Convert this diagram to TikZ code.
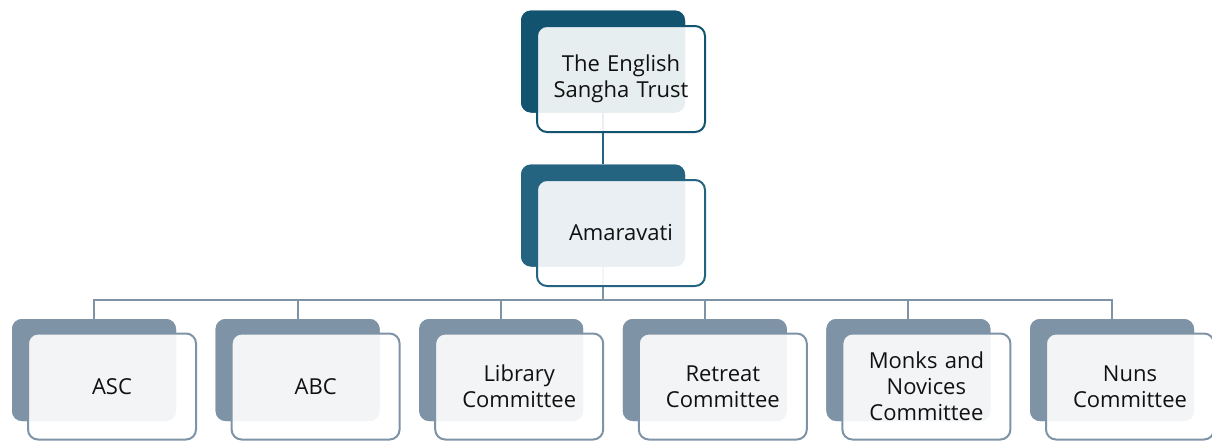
\documentclass[tikz,border=0pt]{standalone}
\usepackage{fontspec}
\setmainfont{Open Sans}
\definecolor{lvA}{HTML}{12536F}
\definecolor{lvB}{HTML}{246481}
\definecolor{lvC}{HTML}{7F93A7}
\definecolor{txt}{HTML}{111111}
\begin{document}
\begin{tikzpicture}[x=1pt,y=-1pt,
  backbox/.style={draw=none,fill=#1,rounded corners=10pt,minimum width=164pt,minimum height=102pt,inner sep=0pt},
  frontbox/.style={draw=#1,line width=2pt,fill=white,fill opacity=0.9,text opacity=1,rounded corners=10pt,minimum width=168pt,minimum height=106pt,inner sep=0pt,text width=160pt,align=center,text=txt,font=\fontsize{22}{26}\selectfont},
  conn/.style={draw=#1,line width=2pt}]
\useasboundingbox (0,0) rectangle (1212,440);
% connectors (behind)
\coordinate (bar) at (603,300);
\node[backbox=lvA] (tb) at (603,61.5) {};
\node[backbox=lvB] (ab) at (603,215.5) {};
\foreach \i in {0,...,5}{
  \node[backbox=lvC] (c\i) at ({94+203.6*\i},370) {};
}
\draw[conn=lvB] (tb.south) -- (ab.north);
\draw[conn=lvC] (ab.south) -- (bar);
\foreach \i in {0,...,5}{
  \draw[conn=lvC] (bar) -| (c\i.north);
}
% redraw back boxes over connectors
\node[backbox=lvA] at (603,61.5) {};
\node[backbox=lvB] at (603,215.5) {};
\foreach \i in {0,...,5}{
  \node[backbox=lvC] at ({94+203.6*\i},370) {};
}
% front boxes
\node[frontbox=lvA] (tf) at (621,79) {The English\\Sangha Trust};
\node[frontbox=lvB] (af) at (621,233) {Amaravati};
\node[frontbox=lvC] (f0) at (112,386.5) {ASC};
\node[frontbox=lvC] (f1) at (315.6,386.5) {ABC};
\node[frontbox=lvC] (f2) at (519.2,386.5) {Library\\Committee};
\node[frontbox=lvC] (f3) at (722.8,386.5) {Retreat\\Committee};
\node[frontbox=lvC] (f4) at (926.4,386.5) {Monks and\\Novices\\Committee};
\node[frontbox=lvC] (f5) at (1130,386.5) {Nuns\\Committee};
\end{tikzpicture}
\end{document}
